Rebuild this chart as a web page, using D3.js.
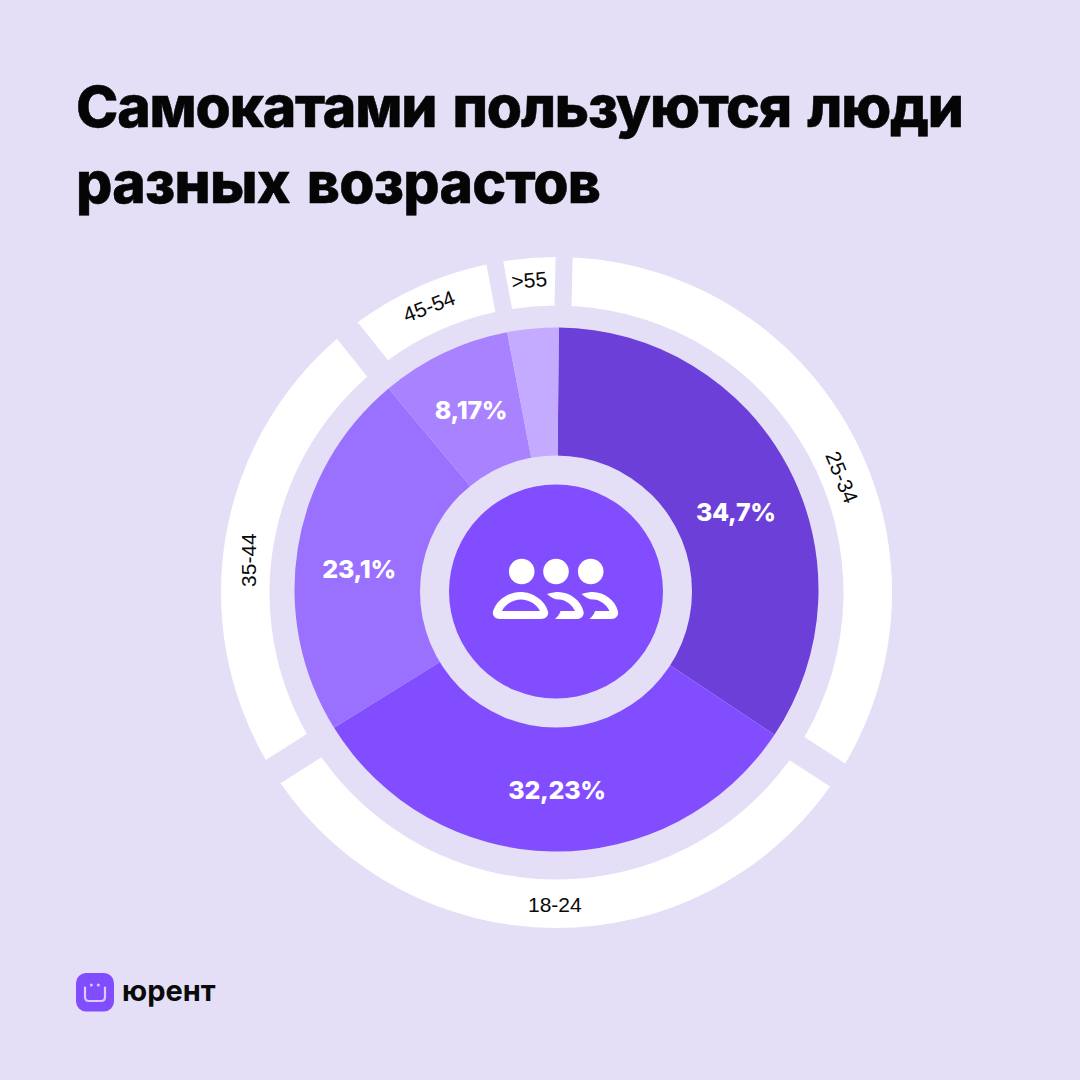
<!DOCTYPE html>
<html><head><meta charset="utf-8">
<script src="https://cdn.jsdelivr.net/npm/d3@7"></script>
<style>html,body{margin:0;padding:0;background:#e4dff6}svg{display:block}</style>
</head><body><svg id="c" width="1080" height="1080"></svg>
<script>
const titleLines = ["Самокатами пользуются люди", "разных возрастов"];
const ageGroups = ["25-34", "18-24", "35-44", "45-54", ">55"];
const shares = [34.7, 32.23, 23.1, 8.17, 3.2];
const shareLabels = ["34,7%", "32,23%", "23,1%", "8,17%", ""];
const ringDegrees = [121.7, 114.7, 83.7, 28, 11.9];
const sliceColors = ["#6c3fd8", "#824dff", "#9a70ff", "#a982ff", "#c4abff"];
const brand = "юрент";

// layout constants
const bg = "#e4dff6";
const titleWidths = [888, 525];
const shareLabelPolar = [[66.5,195],[180,200],[276,199],[334.4,199],[0,0]];
const ringLabelPolar = [[68,308],[180.3,312],[276,310],[336,313.6],[355,313.7]];
const ringLabelRotate = [68,0,-90,-21,-5];
const ringGapBefore = [17,27.5,27.5,26.5,17];

const svg = d3.select("#c");
svg.append("rect").attr("width",1080).attr("height",1080).attr("fill",bg);

svg.selectAll("text.title").data(titleLines).join("text").attr("class","title")
  .attr("x",76).attr("y",(d,i)=>127+i*76)
  .attr("font-family","Inter, 'Noto Sans', sans-serif").attr("font-weight",800)
  .attr("font-size",57).attr("word-spacing",5)
  .attr("textLength",(d,i)=>titleWidths[i]).attr("lengthAdjust","spacing")
  .attr("stroke","#050505").attr("stroke-width",0.5)
  .attr("fill","#050505").text(d=>d);

const toRad = d=>d*Math.PI/180;
const polar = ([deg,r])=>[r*Math.sin(toRad(deg)),-r*Math.cos(toRad(deg))];

const pie = d3.pie().sort(null).value(d=>d).startAngle(toRad(0.5)).endAngle(toRad(360.5));
const arcs = pie(shares);
const gp = svg.append("g").attr("transform","translate(556.5,589.5)");
gp.selectAll("path").data(arcs).join("path")
  .attr("d",d3.arc().innerRadius(100).outerRadius(262)).attr("fill",(d,i)=>sliceColors[i]);

// hole + centre
const gc = svg.append("g").attr("transform","translate(556,591.5)");
gc.append("circle").attr("r",136).attr("fill",bg);
gc.append("circle").attr("r",107).attr("fill","#824dff");

svg.append("g").attr("transform","translate(557,589.5)")
  .selectAll("text").data(shareLabels).join("text")
  .attr("transform",(d,i)=>{const [x,y]=polar(shareLabelPolar[i]);return `translate(${x},${y})`;})
  .attr("text-anchor","middle").attr("dy","0.36em")
  .attr("font-family","Inter, sans-serif").attr("font-weight",800).attr("font-size",25)
  .attr("letter-spacing",-0.3).attr("fill","#fff").text(d=>d);

// outer ring: arcs with parallel-sided gaps of differing width
const ringPie = d3.pie().sort(null).value(d=>d).startAngle(toRad(1.3)).endAngle(toRad(361.3));
const ringArcs = ringPie(ringDegrees);
const R0 = 287, R1 = 335.5;
const pt = (r,a)=>[r*Math.sin(a),-r*Math.cos(a)];
const ringPath = (d,i)=>{
  const h0 = ringGapBefore[i]/2, h1 = ringGapBefore[(i+1)%5]/2;
  const o0 = d.startAngle+Math.asin(h0/R1), o1 = d.endAngle-Math.asin(h1/R1);
  const n0 = d.startAngle+Math.asin(h0/R0), n1 = d.endAngle-Math.asin(h1/R0);
  const p = d3.path();
  p.moveTo(...pt(R1,o0));
  p.arc(0,0,R1,o0-Math.PI/2,o1-Math.PI/2,false);
  p.lineTo(...pt(R0,n1));
  p.arc(0,0,R0,n1-Math.PI/2,n0-Math.PI/2,true);
  p.closePath();
  return p.toString();
};
const gr = svg.append("g").attr("transform","translate(556.5,592.5)");
gr.selectAll("path").data(ringArcs).join("path").attr("d",ringPath).attr("fill","#fff");
gr.selectAll("text").data(ageGroups).join("text")
  .attr("transform",(d,i)=>{const [x,y]=polar(ringLabelPolar[i]);return `translate(${x},${y}) rotate(${ringLabelRotate[i]})`;})
  .attr("text-anchor","middle").attr("dy","0.36em")
  .attr("font-family","'Liberation Sans', Arial, sans-serif").attr("font-size",21)
  .attr("fill","#0a0a0a").text(d=>d);

// icon
const heads=[-34.3,0,34.7];
gc.selectAll("circle.h").data(heads).join("circle").attr("class","h").attr("cx",d=>d).attr("cy",-20).attr("r",12.8).attr("fill","#fff");
gc.append("path").attr("d","M-56 27.5 C-61 27.5 -64 24 -63 20 C-60 9 -48 0.5 -35.5 0.5 C-23 0.5 -11 9 -8 20 C-7 24 -10 27.5 -15 27.5 Z M-54 19.5 L-16 19.5 C-19 13 -27 8 -35 8 C-43 8 -51 13 -54 19.5 Z")
  .attr("fill","#fff").attr("fill-rule","evenodd");
[0,34.5].forEach(dx=>{
  const x=v=>v+dx;
  gc.append("path").attr("d",`M${x(-9)} 2.5 C${x(-4)} 1 ${x(0)} 0.5 ${x(2)} 0.5 C${x(14)} 0.5 ${x(25)} 9 ${x(27.5)} 20 C${x(28.5)} 24 ${x(25)} 27.5 ${x(21)} 27.5 L${x(-1)} 27.5 C${x(2)} 25 ${x(4)} 22 ${x(4.5)} 19.5 L${x(19)} 19.5 C${x(16)} 13 ${x(10)} 8.5 ${x(3)} 8 C${x(-2)} 8 ${x(-5)} 6 ${x(-9)} 2.5 Z`).attr("fill","#fff");
});

// logo
const gl = svg.append("g").attr("transform","translate(76,973)");
gl.append("rect").attr("width",38).attr("height",38.5).attr("rx",10).attr("fill","#824dff");
gl.append("path").attr("d","M9 14.5 L9 24 Q9 28 13 28 L25 28 Q29 28 29 24 L29 14.5").attr("fill","none").attr("stroke","#d9ccff").attr("stroke-width",2.2).attr("stroke-linecap","round");
gl.selectAll("circle").data([15.3,22.3]).join("circle").attr("cx",d=>d).attr("cy",12).attr("r",1.5).attr("fill","#d9ccff");
svg.append("text").attr("x",122).attr("y",1001).attr("font-family","Inter, sans-serif").attr("font-weight",700).attr("font-size",29).attr("fill","#0a0a0a").text(brand);
</script></body></html>
